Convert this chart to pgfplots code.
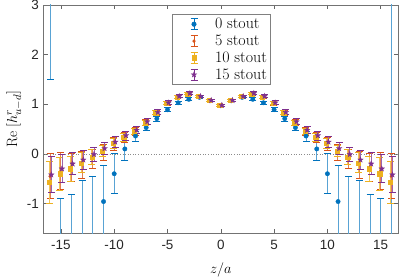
\documentclass[border=0pt]{standalone}
\usepackage{fontspec}
\usepackage{pgfplots}
\usepackage{pgfplotstable}
\pgfplotsset{compat=1.18}
\newfontfamily\tickfont{Liberation Sans}
\definecolor{mblue}{rgb}{0,0.447,0.741}
\definecolor{morange}{rgb}{0.85,0.325,0.098}
\definecolor{myellow}{rgb}{0.929,0.694,0.125}
\definecolor{mpurple}{rgb}{0.494,0.184,0.556}

\pgfdeclareplotmark{fstar}{%
  \pgfpathmoveto{\pgfpointpolar{90}{\pgfplotmarksize}}%
  \pgfpathlineto{\pgfpointpolar{126}{0.4\pgfplotmarksize}}%
  \pgfpathlineto{\pgfpointpolar{162}{\pgfplotmarksize}}%
  \pgfpathlineto{\pgfpointpolar{198}{0.4\pgfplotmarksize}}%
  \pgfpathlineto{\pgfpointpolar{234}{\pgfplotmarksize}}%
  \pgfpathlineto{\pgfpointpolar{270}{0.4\pgfplotmarksize}}%
  \pgfpathlineto{\pgfpointpolar{306}{\pgfplotmarksize}}%
  \pgfpathlineto{\pgfpointpolar{342}{0.4\pgfplotmarksize}}%
  \pgfpathlineto{\pgfpointpolar{18}{\pgfplotmarksize}}%
  \pgfpathlineto{\pgfpointpolar{54}{0.4\pgfplotmarksize}}%
  \pgfpathclose
  \pgfusepathqfillstroke}

\pgfplotstableread{
z b be o oe y ye p pe
-16 4.5 3.0 -0.45 0.45 -0.57 0.42 -0.42 0.36
-15 -2.8 1.9 -0.35 0.37 -0.40 0.33 -0.30 0.28
-14 -2.5 1.69 -0.28 0.28 -0.30 0.25 -0.20 0.22
-13 -2.2 1.67 -0.22 0.28 -0.18 0.20 -0.12 0.20
-12 -1.8 1.35 -0.10 0.20 -0.06 0.15 -0.01 0.15
-11 -0.96 0.72 0.03 0.16 0.06 0.12 0.11 0.13
-10 -0.40 0.40 0.20 0.13 0.21 0.10 0.24 0.11
-9 0.10 0.23 0.33 0.10 0.34 0.08 0.37 0.09
-8 0.36 0.10 0.46 0.08 0.46 0.06 0.48 0.07
-7 0.53 0.06 0.63 0.06 0.63 0.05 0.65 0.06
-6 0.71 0.05 0.83 0.05 0.83 0.04 0.84 0.05
-5 0.89 0.04 1.02 0.04 1.02 0.03 1.03 0.04
-4 1.03 0.03 1.15 0.03 1.15 0.03 1.16 0.03
-3 1.10 0.03 1.21 0.03 1.21 0.02 1.22 0.03
-2 1.14 0.02 1.16 0.02 1.16 0.02 1.16 0.02
-1 1.07 0.02 1.08 0.02 1.08 0.02 1.08 0.02
0 0.97 0.02 0.98 0.02 0.98 0.02 0.98 0.02
1 1.07 0.02 1.08 0.02 1.08 0.02 1.08 0.02
2 1.14 0.02 1.16 0.02 1.16 0.02 1.16 0.02
3 1.10 0.03 1.21 0.03 1.21 0.02 1.22 0.03
4 1.03 0.03 1.15 0.03 1.15 0.03 1.16 0.03
5 0.89 0.04 1.02 0.04 1.02 0.03 1.03 0.04
6 0.71 0.05 0.83 0.05 0.83 0.04 0.84 0.05
7 0.53 0.06 0.63 0.06 0.63 0.05 0.65 0.06
8 0.36 0.10 0.46 0.08 0.46 0.06 0.48 0.07
9 0.10 0.23 0.33 0.10 0.34 0.08 0.37 0.09
10 -0.40 0.40 0.20 0.13 0.21 0.10 0.24 0.11
11 -0.96 0.72 0.03 0.16 0.06 0.12 0.11 0.13
12 -1.8 1.35 -0.10 0.20 -0.06 0.15 -0.01 0.15
13 -2.2 1.67 -0.22 0.28 -0.18 0.20 -0.12 0.20
14 -2.5 1.69 -0.28 0.28 -0.30 0.25 -0.20 0.22
15 -2.8 1.9 -0.35 0.37 -0.40 0.33 -0.30 0.28
16 -3.0 7.0 -0.45 0.45 -0.57 0.42 -0.42 0.36
}\data

\begin{document}
\begin{tikzpicture}
\begin{axis}[
  at={(0,0)}, anchor=south west,
  scale only axis, width=355bp, height=228.3bp,
  xmin=-16.65, xmax=16.65, ymin=-1.6, ymax=3,
  xtick={-15,-10,-5,0,5,10,15},
  xticklabels={-15,-10,-5,0,5,10,15},
  ytick={-1,0,1,2,3},
  yticklabels={-1,0,1,2,3},
  xtick pos=both, ytick pos=both,
  xticklabel pos=lower, yticklabel pos=left,
  tick align=inside,
  major tick length=4.5bp,
  tick style={black!60, line width=0.5bp},
  axis line style={black!55, line width=0.6bp},
  ticklabel style={font=\tickfont\fontsize{13.5}{15}\selectfont, text=black!85},
  xticklabel style={yshift=-3bp},
  yticklabel style={xshift=-1bp},
  xlabel={$z/a$},
  ylabel={$\mathrm{Re}\;[h^r_{u-d}]$},
  label style={font=\fontsize{15}{17}\selectfont},
  xlabel style={at={(axis description cs:0.5,-0.1752)}, anchor=base},
  ylabel shift=-2bp,
  legend cell align=left,
  legend style={at={(0.3617,0.9606)}, anchor=north west, draw=black!50, line width=0.6bp,
    font=\fontsize{16}{18}\selectfont, inner xsep=1bp, inner ysep=1.5bp,
    nodes={inner ysep=2.4bp, inner xsep=2bp}},
  legend image code/.code={
    \path[draw=none] (0bp,0bp) -- (40bp,0bp);
    \draw[#1, mark=none, solid, line width=0.7bp] (21bp,-5.5bp) -- (21bp,5.5bp)
       (17.5bp,-5.5bp) -- (24.5bp,-5.5bp) (17.5bp,5.5bp) -- (24.5bp,5.5bp);
    \path[#1, only marks] plot coordinates {(21bp,0bp)};
  },
]
\addplot[black!45, dotted, line width=0.6bp, forget plot] coordinates {(-17,0) (17,0)};

\addplot[mblue, only marks, mark=*, mark size=2.2bp,
  error bars/.cd, y dir=both, y explicit,
  error bar style={line width=0.9bp, mblue!65},
  error mark options={rotate=90, mark size=3.5bp, line width=0.8bp, mblue}]
  table[x=z, y=b, y error=be]{\data};
\addlegendentry{0 stout}

\addplot[morange, only marks, mark=*, mark size=1.3bp,
  error bars/.cd, y dir=both, y explicit,
  error bar style={line width=0.8bp, morange!75},
  error mark options={rotate=90, mark size=3.5bp, line width=0.8bp, morange}]
  table[x expr=\thisrow{z}-0.02, y=o, y error=oe]{\data};
\addlegendentry{5 stout}

\addplot[myellow, only marks, mark=square*, mark size=2.1bp,
  error bars/.cd, y dir=both, y explicit,
  error bar style={line width=0.8bp, myellow!75},
  error mark options={rotate=90, mark size=3.5bp, line width=0.8bp, myellow}]
  table[x expr=\thisrow{z}-0.1, y=y, y error=ye]{\data};
\addlegendentry{10 stout}

\addplot[mpurple, only marks, mark=fstar, mark size=2.9bp, mark options={line width=0.3bp},
  error bars/.cd, y dir=both, y explicit,
  error bar style={line width=0.8bp, mpurple!75},
  error mark options={rotate=90, mark size=3.5bp, line width=0.8bp, mpurple}]
  table[x expr=\thisrow{z}+0.1, y=p, y error=pe]{\data};
\addlegendentry{15 stout}
\end{axis}
\pgfresetboundingbox
\path (-43.3bp,-46.7bp) rectangle (355.7bp,233.3bp);
\end{tikzpicture}
\end{document}
